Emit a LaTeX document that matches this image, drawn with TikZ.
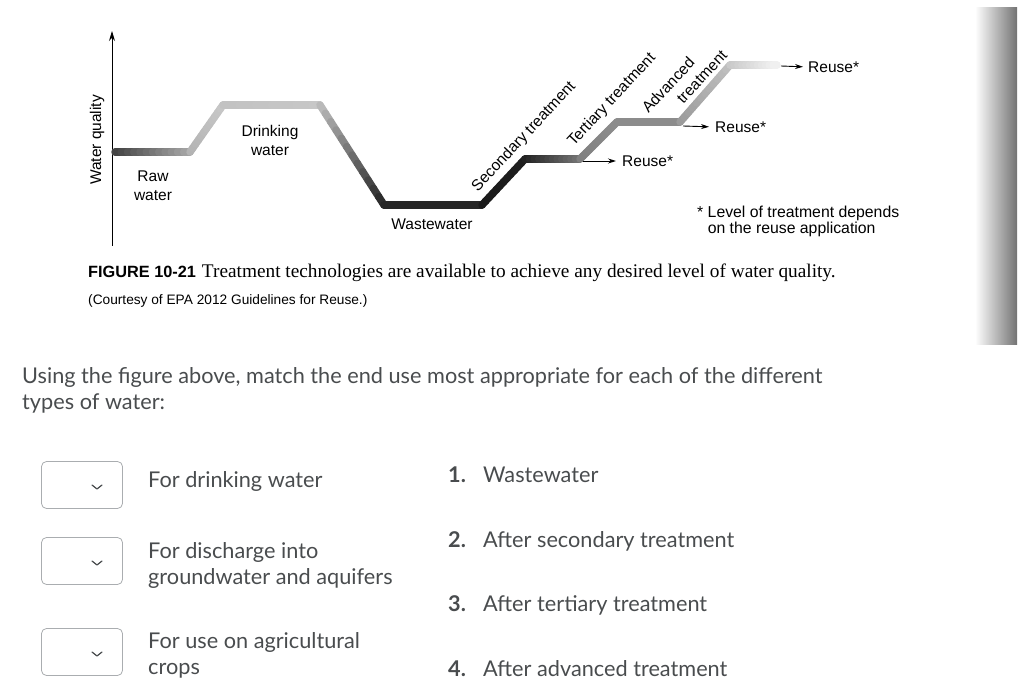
\documentclass[tikz,border=0pt]{standalone}
\usepackage{fontspec}
\setmainfont{Liberation Serif}
\newfontfamily\figfont{Liberation Sans}
\newfontfamily\uifont{Lato}
\usetikzlibrary{positioning, calc, arrows.meta}

\definecolor{uitext}{RGB}{73,76,78}
\definecolor{boxline}{RGB}{170,173,176}

% thick profile piece whose grey goes from #3 to #4
\newcommand{\gradseg}[4]{%
  \foreach \k in {0,...,11}{
    \pgfmathsetmacro{\ta}{\k/12}
    \pgfmathsetmacro{\tb}{(\k+1)/12}
    \pgfmathsetmacro{\gv}{#3+(#4-#3)*(\k+0.5)/12}
    \draw[profile, draw=black!\gv] ($(#1)!\ta!(#2)$) -- ($(#1)!\tb!(#2)$);
  }}

\tikzset{
  profile/.style={line width=7.5pt, line cap=round},
  figlabel/.style={font=\figfont\fontsize{15.5}{19}\selectfont, align=center, inner sep=0pt},
  reusearrow/.style={-{Stealth[length=8pt,width=5pt]}, line width=0.9pt},
  uilabel/.style={font=\uifont\fontsize{21.7}{25.5}\selectfont, text=uitext, anchor=base west, inner sep=0pt, align=left},
  numlabel/.style={uilabel, font=\uifont\bfseries\fontsize{21.7}{25.5}\selectfont},
  selbox/.style={draw=boxline, rounded corners=5pt, minimum width=81pt, minimum height=47pt, inner sep=0pt, line width=0.8pt},
  chev/.style={draw=uitext, line width=1.2pt, line cap=round, line join=round}
}

\begin{document}
\begin{tikzpicture}[x=1pt, y=-1pt]

  \useasboundingbox (0,0) rectangle (1024,692);

  % page edge of the scanned book
  \shade[left color=white, right color=black!55] (975,8) rectangle (1017,344);

  % axis
  \coordinate (axbot) at (112,246);
  \coordinate (axtop) at (112,31);
  \draw[-{Stealth[length=10pt,width=6pt]}, line width=1pt] (axbot) -- (axtop);
  \node[figlabel, rotate=90] (quality) at (97,140) {Water quality};

  % profile of the water quality
  \coordinate (r0) at (115,152);
  \coordinate (r1) at (190,152);
  \coordinate (d0) at (223,105);
  \coordinate (d1) at (320,105);
  \coordinate (w0) at (384,205);
  \coordinate (w1) at (482,205);
  \coordinate (s1) at (525,159);
  \coordinate (t0) at (580,159);
  \coordinate (t1) at (617,122);
  \coordinate (a0) at (680,122);
  \coordinate (a1) at (730,65);
  \coordinate (e1) at (777,65);

  \gradseg{r0}{r1}{75}{35}
  \gradseg{r1}{d0}{30}{22}
  \gradseg{d0}{d1}{24}{22}
  \gradseg{d1}{w0}{25}{85}
  \gradseg{w0}{w1}{85}{85}
  \gradseg{w1}{s1}{90}{88}
  \gradseg{s1}{t0}{88}{55}
  \gradseg{t0}{t1}{50}{45}
  \gradseg{t1}{a0}{45}{45}
  \gradseg{a0}{a1}{40}{25}
  \gradseg{a1}{e1}{22}{5}

  \node[figlabel] (raw) at (153,186) {Raw\\water};
  \node[figlabel] (drinking) at (270,140) {Drinking\\water};
  \node[figlabel] (waste) at (432,224) {Wastewater};
  \node[figlabel, rotate=47] (secondary) at (524,137) {Secondary treatment};
  \node[figlabel, rotate=47] (tertiary) at (612,100) {Tertiary treatment};
  \node[figlabel, rotate=47] (advA) at (668,85) {Advanced};
  \node[figlabel, rotate=47] (advB) at (702,77) {treatment};

  % reuse arrows
  \coordinate (arA) at (583,161);
  \coordinate (arB) at (683,126);
  \coordinate (arC) at (781,66);
  \node[figlabel, anchor=west] (reuseA) at (622,161) {Reuse*};
  \node[figlabel, anchor=west] (reuseB) at (715,127) {Reuse*};
  \node[figlabel, anchor=west] (reuseC) at (808,67) {Reuse*};
  \draw[reusearrow, shorten >=6pt] (arA) -- (reuseA.west);
  \draw[reusearrow, shorten >=6pt] (arB) -- (reuseB.west);
  \draw[reusearrow, shorten >=5pt] (arC) -- (reuseC.west);

  \node[figlabel, align=left, anchor=north west, font=\figfont\fontsize{15.8}{16}\selectfont]
    (note) at (697,206) {* Level of treatment depends\\\phantom{* }on the reuse application};

  % caption
  \node[anchor=base west, inner sep=0pt] (caption) at (88,277)
    {{\figfont\bfseries\fontsize{16.3}{19}\selectfont FIGURE 10-21}\hspace{6pt}{\fontsize{19.3}{22}\selectfont Treatment technologies are available to achieve any desired level of water quality.}};
  \node[anchor=base west, inner sep=0pt, font=\figfont\fontsize{13.7}{16}\selectfont]
    (courtesy) at (88,305) {(Courtesy of EPA 2012 Guidelines for Reuse.)};

  % question (base = last line)
  \node[uilabel] (question) at (22,409)
    {Using the figure above, match the end use most appropriate for each of the different\\types of water:};

  % drop-down boxes
  \node[selbox] (sel1) at (82,485) {};
  \node[selbox] (sel2) at (82,561) {};
  \node[selbox] (sel3) at (82,652) {};
  \draw[chev] ($(sel1.center)+(10,0)$) -- ($(sel1.center)+(15,4)$) -- ($(sel1.center)+(20,0)$);
  \draw[chev] ($(sel2.center)+(10,0)$) -- ($(sel2.center)+(15,4)$) -- ($(sel2.center)+(20,0)$);
  \draw[chev] ($(sel3.center)+(10,0)$) -- ($(sel3.center)+(15,4)$) -- ($(sel3.center)+(20,0)$);

  \node[uilabel] (use1) at (148,487) {For drinking water};
  \node[uilabel] (use2) at (148,584) {For discharge into\\groundwater and aquifers};
  \node[uilabel] (use3) at (148,674) {For use on agricultural\\crops};

  % answers
  \node[numlabel] (num1) at (448,482) {1.};
  \node[uilabel] (opt1) at (483,482) {Wastewater};
  \node[numlabel] (num2) at (448,547) {2.};
  \node[uilabel] (opt2) at (483,547) {After secondary treatment};
  \node[numlabel] (num3) at (448,611) {3.};
  \node[uilabel] (opt3) at (483,611) {After tertiary treatment};
  \node[numlabel] (num4) at (448,676) {4.};
  \node[uilabel] (opt4) at (483,676) {After advanced treatment};

\end{tikzpicture}
\end{document}
